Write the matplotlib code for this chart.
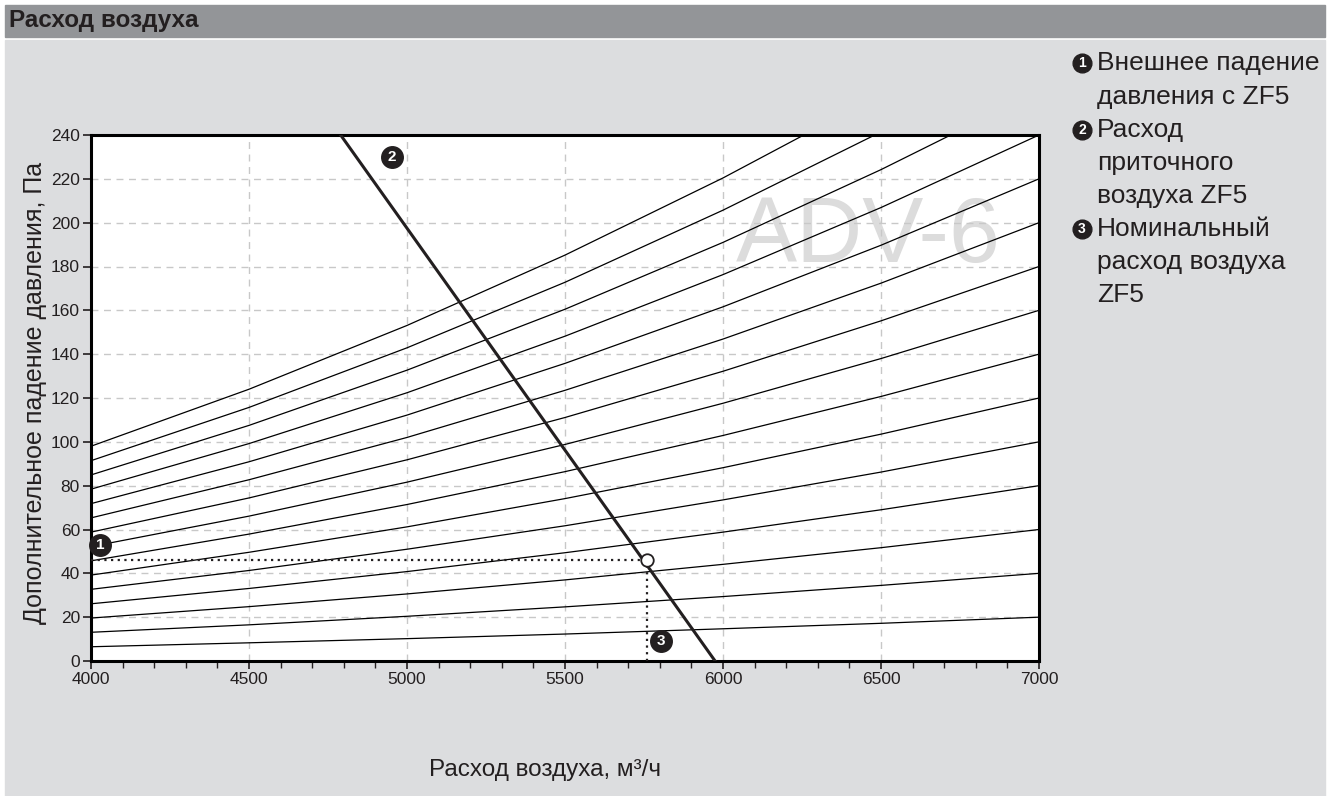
import matplotlib
matplotlib.use('Agg')

import matplotlib.pyplot as plt
from matplotlib.patches import Rectangle
from matplotlib.lines import Line2D
from matplotlib.ticker import MultipleLocator

plt.rcParams['font.family'] = ['Liberation Sans', 'DejaVu Sans']

# Data
airflow = [4000, 4500, 5000, 5500, 6000, 6500, 7000]   # м3/ч
system_curves = [
    [6.5, 8.3, 10.2, 12.3, 14.7, 17.2, 20],
    [13.1, 16.5, 20.4, 24.7, 29.4, 34.5, 40],
    [19.6, 24.8, 30.6, 37.0, 44.1, 51.7, 60],
    [26.1, 33.1, 40.8, 49.4, 58.8, 69.0, 80],
    [32.7, 41.3, 51.0, 61.7, 73.5, 86.2, 100],
    [39.2, 49.6, 61.2, 74.1, 88.2, 103.5, 120],
    [45.7, 57.9, 71.4, 86.4, 102.9, 120.7, 140],
    [52.2, 66.1, 81.6, 98.8, 117.6, 138.0, 160],
    [58.8, 74.4, 91.8, 111.1, 132.2, 155.2, 180],
    [65.3, 82.7, 102.0, 123.5, 146.9, 172.4, 200],
    [71.8, 90.9, 112.2, 135.8, 161.6, 189.7, 220],
    [78.4, 99.2, 122.4, 148.2, 176.3, 206.9, 240],
    [84.9, 107.5, 132.7, 160.5, 191.0, 224.2, 260],
    [91.4, 115.7, 142.9, 172.8, 205.7, 241.4, 280],
    [98.0, 124.0, 153.1, 185.2, 220.4, 258.7, 300],
]
supply_flow = [4790, 5975]
supply_pressure = [240, 0]
nominal_flow = 5760
nominal_pressure = 46

x_ticks = [4000, 4500, 5000, 5500, 6000, 6500, 7000]
y_ticks = list(range(0, 241, 20))

legend_lines = [
    ("1", "Внешнее падение"),
    (None, "давления с ZF5"),
    ("2", "Расход"),
    (None, "приточного"),
    (None, "воздуха ZF5"),
    ("3", "Номинальный"),
    (None, "расход воздуха"),
    (None, "ZF5"),
]

W, H = 1331, 796
dark = '#231f20'

fig = plt.figure(figsize=(W / 100, H / 100), dpi=100)
fig.patch.set_facecolor('white')

# background panel and header bar
fig.patches.append(Rectangle((5 / W, 0), 1320 / W, (H - 40) / H,
                             transform=fig.transFigure, color='#dcdddf', zorder=-2))
fig.patches.append(Rectangle((5 / W, (H - 37) / H), 1320 / W, 32 / H,
                             transform=fig.transFigure, color='#939598', zorder=-2))
fig.text(9 / W, 1 - 21 / H, 'Расход воздуха', weight='bold', size=17.5,
         va='center', color=dark)

ax = fig.add_axes([91 / W, (H - 661) / H, 948 / W, 526 / H])
ax.set_zorder(1)
ax.set_facecolor('white')

for curve in system_curves:
    ax.plot(airflow, curve, color='black', lw=0.9, zorder=2)

ax.plot(supply_flow, supply_pressure, color=dark, lw=2.2, zorder=3)

ax.plot([4000, nominal_flow], [nominal_pressure, nominal_pressure],
        color=dark, lw=1.6, ls=(0, (1, 2)), zorder=3)
ax.plot([nominal_flow, nominal_flow], [0, nominal_pressure],
        color=dark, lw=1.6, ls=(0, (1, 2)), zorder=3)
ax.plot(nominal_flow, nominal_pressure, 'o', ms=9, mfc='white', mec=dark,
        mew=1.3, zorder=4)

# watermark
ax.text(6460, 193, 'ADV-6', size=66, color='#dcdcdc', ha='center',
        va='center', zorder=0.4)


def badge(x, y, num, size=15.5, fsize=11):
    ax.plot(x, y, 'o', ms=size, color=dark, clip_on=False, zorder=5)
    ax.text(x, y, num, color='white', weight='bold', size=fsize,
            ha='center', va='center', zorder=6)


badge(4030, 53, '1')
badge(4952, 230, '2')
badge(5804, 9, '3')

ax.set_xlim(4000, 7000)
ax.set_ylim(0, 240)
ax.set_xticks(x_ticks)
ax.set_yticks(y_ticks)
ax.xaxis.set_minor_locator(MultipleLocator(100))
ax.grid(True, which='major', color='#c8c8c8', ls=(0, (5, 4)), lw=1)
ax.set_axisbelow(True)
ax.tick_params(direction='out', length=6, width=1.2, labelsize=12.5,
               pad=2, colors=dark)
ax.tick_params(which='minor', direction='out', length=5, width=1, colors=dark)
for sp in ax.spines.values():
    sp.set_linewidth(2.2)
    sp.set_color('black')

fig.text(35 / W, 1 - 393 / H, 'Дополнительное падение давления, Па',
         rotation=90, ha='center', va='center', size=18, color=dark)
fig.text(545 / W, 1 - 770 / H, 'Расход воздуха, м³/ч', ha='center',
         va='center', size=17.5, color=dark)

# legend on the right
line_y = [63, 97, 130, 163, 196, 229, 262, 295]
for (num, txt), yy in zip(legend_lines, line_y):
    fig.text(1097 / W, 1 - yy / H, txt, size=19, va='center', color=dark)
    if num:
        fig.add_artist(Line2D([1082 / W], [1 - yy / H], marker='o', ms=13.5,
                              color=dark, transform=fig.transFigure))
        fig.text(1082 / W, 1 - yy / H, num, color='white', weight='bold',
                 size=10, ha='center', va='center')

fig.savefig('out.png', dpi=100)
